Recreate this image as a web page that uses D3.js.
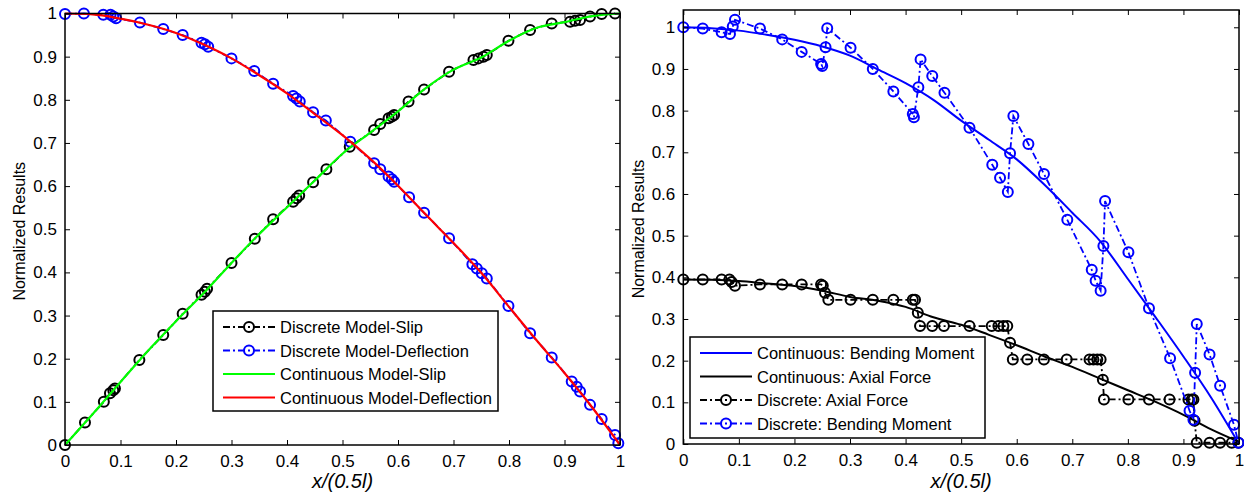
<!DOCTYPE html>
<html>
<head>
<meta charset="utf-8">
<script src="https://cdn.jsdelivr.net/npm/d3@7"></script>
<style>
  body { margin: 0; background: #fff; }
  text { font-family: "Liberation Sans", Arial, sans-serif; }
</style>
</head>
<body>
<div id="chart"></div>
<script>
var width = 1244, height = 497;

// ---------- left panel data (slip / deflection) ----------
var slipDiscX = [0, 0.036, 0.070, 0.081, 0.087, 0.090, 0.134, 0.177, 0.212, 0.246, 0.252, 0.256, 0.300, 0.342,
  0.375, 0.411, 0.417, 0.422, 0.447, 0.471, 0.513, 0.557, 0.568, 0.583, 0.589, 0.593, 0.619, 0.647, 0.692,
  0.736, 0.745, 0.754, 0.760, 0.799, 0.838, 0.877, 0.910, 0.919, 0.928, 0.946, 0.967, 0.991];
var slipDiscY = [0, 0.052, 0.100, 0.120, 0.127, 0.131, 0.197, 0.255, 0.304, 0.348, 0.355, 0.362, 0.422, 0.478,
  0.523, 0.564, 0.572, 0.578, 0.609, 0.639, 0.691, 0.730, 0.744, 0.757, 0.761, 0.765, 0.796, 0.824, 0.865,
  0.892, 0.896, 0.900, 0.904, 0.937, 0.962, 0.977, 0.981, 0.983, 0.985, 0.993, 0.999, 1.0];

var deflDiscX = [0, 0.034, 0.069, 0.082, 0.087, 0.092, 0.135, 0.177, 0.212, 0.246, 0.252, 0.258, 0.300, 0.341,
  0.375, 0.411, 0.417, 0.423, 0.447, 0.470, 0.514, 0.557, 0.568, 0.583, 0.589, 0.593, 0.620, 0.647, 0.692,
  0.734, 0.742, 0.751, 0.760, 0.799, 0.838, 0.877, 0.913, 0.922, 0.928, 0.946, 0.967, 0.991, 0.997];
var deflDiscY = [0.999, 1.0, 0.997, 0.997, 0.993, 0.989, 0.979, 0.964, 0.950, 0.932, 0.929, 0.923, 0.896, 0.867,
  0.837, 0.809, 0.803, 0.796, 0.771, 0.752, 0.703, 0.653, 0.639, 0.622, 0.616, 0.610, 0.574, 0.538, 0.479,
  0.419, 0.409, 0.398, 0.386, 0.322, 0.259, 0.203, 0.147, 0.135, 0.124, 0.093, 0.060, 0.023, 0.004];

var contX = [0, 0.05, 0.1, 0.15, 0.2, 0.25, 0.3, 0.35, 0.4, 0.45, 0.5, 0.55, 0.6, 0.65, 0.7, 0.75, 0.8, 0.85, 0.9, 0.95, 1.0];
var slipContY = [0, 0.072, 0.146, 0.219, 0.287, 0.352, 0.422, 0.489, 0.551, 0.613, 0.675, 0.724, 0.773, 0.827,
  0.870, 0.898, 0.937, 0.967, 0.980, 0.994, 1.0];
var deflContY = [1.0, 0.998, 0.988, 0.974, 0.955, 0.928, 0.896, 0.857, 0.815, 0.767, 0.718, 0.663, 0.601, 0.534,
  0.468, 0.399, 0.320, 0.242, 0.167, 0.087, 0];

// ---------- right panel data (bending moment / axial force) ----------
var bendContY = [1.0, 0.998, 0.992, 0.982, 0.970, 0.954, 0.932, 0.899, 0.866, 0.826, 0.776, 0.730, 0.683, 0.622,
  0.555, 0.487, 0.396, 0.304, 0.210, 0.111, 0];
var axialContY = [0.395, 0.394, 0.391, 0.385, 0.379, 0.368, 0.353, 0.344, 0.329, 0.304, 0.286, 0.262, 0.237,
  0.210, 0.185, 0.157, 0.129, 0.101, 0.070, 0.035, 0.005];

var axialDiscX = [0, 0.035, 0.069, 0.083, 0.087, 0.093, 0.138, 0.178, 0.213, 0.248, 0.251, 0.255, 0.261, 0.301,
  0.341, 0.378, 0.413, 0.417, 0.422, 0.426, 0.448, 0.469, 0.515, 0.555, 0.567, 0.576, 0.583, 0.588, 0.593,
  0.619, 0.649, 0.690, 0.731, 0.738, 0.745, 0.751, 0.755, 0.757, 0.801, 0.838, 0.875, 0.909, 0.915, 0.918,
  0.920, 0.924, 0.947, 0.966, 0.987, 0.999];
var axialDiscY = [0.395, 0.395, 0.395, 0.395, 0.389, 0.380, 0.383, 0.383, 0.383, 0.383, 0.380, 0.363, 0.346, 0.346,
  0.346, 0.346, 0.346, 0.346, 0.315, 0.283, 0.283, 0.283, 0.283, 0.283, 0.283, 0.283, 0.283, 0.243, 0.203,
  0.203, 0.203, 0.203, 0.203, 0.203, 0.203, 0.203, 0.154, 0.107, 0.107, 0.107, 0.107, 0.107, 0.107, 0.107,
  0.056, 0.003, 0.003, 0.003, 0.003, 0.003];

var bendDiscX = [0, 0.035, 0.069, 0.084, 0.089, 0.093, 0.138, 0.178, 0.213, 0.248, 0.250, 0.256, 0.259, 0.301,
  0.341, 0.378, 0.413, 0.415, 0.423, 0.427, 0.448, 0.470, 0.515, 0.556, 0.570, 0.584, 0.588, 0.594, 0.621,
  0.649, 0.691, 0.735, 0.742, 0.751, 0.756, 0.759, 0.801, 0.838, 0.876, 0.911, 0.918, 0.921, 0.924, 0.947,
  0.966, 0.991, 0.999];
var bendDiscY = [1.0, 0.997, 0.988, 0.984, 1.002, 1.018, 0.997, 0.971, 0.941, 0.912, 0.907, 0.952, 0.998, 0.951,
  0.900, 0.846, 0.792, 0.784, 0.856, 0.923, 0.883, 0.843, 0.759, 0.670, 0.639, 0.605, 0.698, 0.787, 0.720,
  0.648, 0.538, 0.418, 0.392, 0.368, 0.475, 0.583, 0.460, 0.326, 0.206, 0.080, 0.058, 0.171, 0.288, 0.215,
  0.140, 0.046, 0.003];

var xTicks = [0, 0.1, 0.2, 0.3, 0.4, 0.5, 0.6, 0.7, 0.8, 0.9, 1];
var yTicks = [0, 0.1, 0.2, 0.3, 0.4, 0.5, 0.6, 0.7, 0.8, 0.9, 1];

function zip(xs, ys) {
  return xs.map(function (x, i) { return [x, ys[i]]; });
}

var DASHDOT = "7,3,2,3";

var svg = d3.select("#chart").append("svg")
  .attr("width", width)
  .attr("height", height)
  .style("background", "#fff");

function drawPanel(p) {
  var x = d3.scaleLinear().domain([0, 1]).range([p.left, p.right]);
  var y = d3.scaleLinear().domain([0, p.ymax]).range([p.bottom, p.top]);
  var g = svg.append("g");

  // series
  p.series.forEach(function (s) {
    var pts = zip(s.x, s.y);
    var line = d3.line()
      .x(function (d) { return x(d[0]); })
      .y(function (d) { return y(d[1]); })
      .curve(s.marker ? d3.curveLinear : d3.curveMonotoneX);
    g.append("path")
      .attr("d", line(pts))
      .attr("fill", "none")
      .attr("stroke", s.color)
      .attr("stroke-width", s.width)
      .attr("stroke-dasharray", s.dash ? DASHDOT : null);
    if (s.marker) {
      g.selectAll(null).data(pts).enter().append("circle")
        .attr("cx", function (d) { return x(d[0]); })
        .attr("cy", function (d) { return y(d[1]); })
        .attr("r", 5)
        .attr("fill", "none")
        .attr("stroke", s.color)
        .attr("stroke-width", 2);
    }
  });

  // axes: MATLAB style box with inward ticks
  var tl = 5;
  g.append("g").attr("transform", "translate(0," + p.bottom + ")")
    .call(d3.axisBottom(x).tickValues(xTicks).tickSizeInner(-tl).tickSizeOuter(0).tickPadding(10)
      .tickFormat(function (d) { return d3.format("")(d); }));
  g.append("g").attr("transform", "translate(0," + p.top + ")")
    .call(d3.axisTop(x).tickValues(xTicks).tickSizeInner(-tl).tickSizeOuter(0).tickFormat(""));
  g.append("g").attr("transform", "translate(" + p.left + ",0)")
    .call(d3.axisLeft(y).tickValues(yTicks).tickSizeInner(-tl).tickSizeOuter(0).tickPadding(8)
      .tickFormat(function (d) { return d3.format("")(d); }));
  g.append("g").attr("transform", "translate(" + p.right + ",0)")
    .call(d3.axisRight(y).tickValues(yTicks).tickSizeInner(-tl).tickSizeOuter(0).tickFormat(""));
  g.selectAll(".domain").remove();
  g.selectAll(".tick line").attr("stroke", "#000").attr("stroke-width", 1);
  g.selectAll(".tick text").attr("font-size", 17).attr("fill", "#000")
    .attr("font-family", "Liberation Sans, Arial, sans-serif");
  g.append("rect")
    .attr("x", p.left).attr("y", p.top)
    .attr("width", p.right - p.left).attr("height", p.bottom - p.top)
    .attr("fill", "none").attr("stroke", "#000").attr("stroke-width", 1.5);

  // labels
  g.append("text")
    .attr("transform", "translate(" + p.ylabX + "," + ((p.top + p.bottom) / 2 + 2) + ") rotate(-90)")
    .attr("text-anchor", "middle")
    .attr("font-size", 16)
    .text("Normalized Results");
  g.append("text")
    .attr("x", (p.left + p.right) / 2)
    .attr("y", 488)
    .attr("text-anchor", "middle")
    .attr("font-family", "Liberation Serif, Times New Roman, serif")
    .attr("font-style", "italic")
    .attr("font-size", 20)
    .text("x/(0.5l)");

  // legend
  var L = p.legend;
  var lg = g.append("g");
  lg.append("rect")
    .attr("x", L.x).attr("y", L.y).attr("width", L.w).attr("height", L.h)
    .attr("fill", "#fff").attr("stroke", "#000").attr("stroke-width", 1.5);
  L.items.forEach(function (it, i) {
    var cy = L.y + 16 + i * 23.5;
    var s = p.series[it.idx];
    lg.append("line")
      .attr("x1", L.x + 10).attr("x2", L.x + 62)
      .attr("y1", cy).attr("y2", cy)
      .attr("stroke", s.color).attr("stroke-width", s.width)
      .attr("stroke-dasharray", s.dash ? DASHDOT : null);
    if (s.marker) {
      lg.append("circle").attr("cx", L.x + 36).attr("cy", cy).attr("r", 5)
        .attr("fill", "none").attr("stroke", s.color).attr("stroke-width", 2);
    }
    lg.append("text")
      .attr("x", L.x + 67).attr("y", cy + 6)
      .attr("font-size", 16.5)
      .text(it.label);
  });
}

drawPanel({
  left: 65, right: 620, top: 13.5, bottom: 445, ymax: 1, ylabX: 24.5,
  series: [
    { x: slipDiscX, y: slipDiscY, color: "#000", width: 1.8, dash: true, marker: true },
    { x: deflDiscX, y: deflDiscY, color: "#0000ff", width: 1.8, dash: true, marker: true },
    { x: contX, y: slipContY, color: "#00ff00", width: 2.2 },
    { x: contX, y: deflContY, color: "#ff0000", width: 2.2 }
  ],
  legend: {
    x: 213, y: 311, w: 285, h: 100,
    items: [
      { idx: 0, label: "Discrete Model-Slip" },
      { idx: 1, label: "Discrete Model-Deflection" },
      { idx: 2, label: "Continuous Model-Slip" },
      { idx: 3, label: "Continuous Model-Deflection" }
    ]
  }
});

drawPanel({
  left: 683.3, right: 1239, top: 10, bottom: 444, ymax: 1.0415, ylabX: 644,
  series: [
    { x: contX, y: bendContY, color: "#0000ff", width: 2 },
    { x: contX, y: axialContY, color: "#000", width: 2 },
    { x: axialDiscX, y: axialDiscY, color: "#000", width: 1.8, dash: true, marker: true },
    { x: bendDiscX, y: bendDiscY, color: "#0000ff", width: 1.8, dash: true, marker: true }
  ],
  legend: {
    x: 690, y: 337, w: 295, h: 101,
    items: [
      { idx: 0, label: "Continuous: Bending Moment" },
      { idx: 1, label: "Continuous: Axial Force" },
      { idx: 2, label: "Discrete: Axial Force" },
      { idx: 3, label: "Discrete: Bending Moment" }
    ]
  }
});
</script>
</body>
</html>
